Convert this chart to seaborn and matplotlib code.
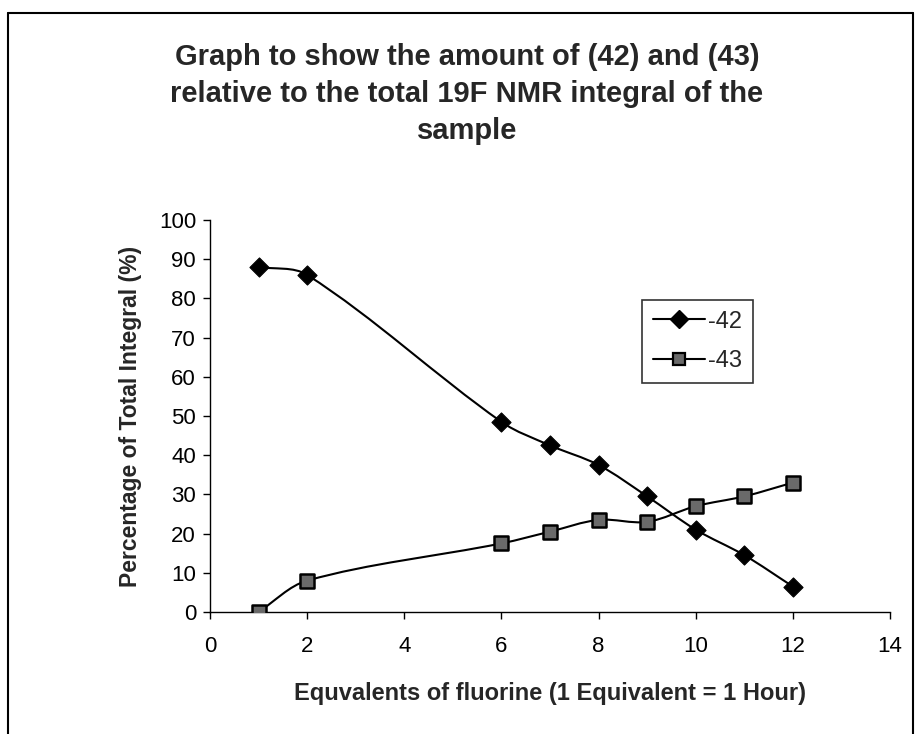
import numpy as np
import pandas as pd
import matplotlib
matplotlib.use("Agg")
import matplotlib.pyplot as plt
from matplotlib.path import Path
from matplotlib.patches import PathPatch
from matplotlib.lines import Line2D
import seaborn as sns

equivalents = [1, 2, 6, 7, 8, 9, 10, 11, 12]
series_42 = [88, 86, 48.5, 42.5, 37.5, 29.5, 21, 14.5, 6.5]
series_43 = [0, 8, 17.5, 20.5, 23.5, 23, 27, 29.5, 33]
series_names = ["-42", "-43"]
x_ticks = [0, 2, 4, 6, 8, 10, 12, 14]
y_ticks = [0, 10, 20, 30, 40, 50, 60, 70, 80, 90, 100]

sns.set_theme(style="white")
plt.rcParams["font.family"] = ["Liberation Sans", "DejaVu Sans"]

df = pd.DataFrame({
    "x": equivalents * 2,
    "y": series_42 + series_43,
    "series": [series_names[0]] * len(equivalents) + [series_names[1]] * len(equivalents),
})

W, H = 919, 734
fig = plt.figure(figsize=(W / 100, H / 100), dpi=100)
ax_l, ax_r, ax_b, ax_t = 210, 890, 612, 220
ax = fig.add_axes([ax_l / W, 1 - ax_b / H, (ax_r - ax_l) / W, (ax_b - ax_t) / H])
ax.set_xlim(0, 14)
ax.set_ylim(0, 100)


def smooth_path(xs, ys):
    """Excel-like smoothed line: cubic Bezier with length-weighted tangents."""
    pts = np.column_stack([xs, ys]).astype(float)
    disp = ax.transData.transform(pts)
    n = len(pts)
    f = 1.0 / 3.0
    verts = [pts[0]]
    codes = [Path.MOVETO]
    for i in range(n - 1):
        i0 = max(i - 1, 0)
        i3 = min(i + 2, n - 1)
        p0, p1, p2, p3 = pts[i0], pts[i], pts[i + 1], pts[i3]
        d01 = np.linalg.norm(disp[i] - disp[i0])
        d12 = np.linalg.norm(disp[i + 1] - disp[i])
        d23 = np.linalg.norm(disp[i3] - disp[i + 1])
        if i0 == i:
            c1 = p1 + (p2 - p1) * f
        else:
            c1 = p1 + (p2 - p0) * f * d12 / (d01 + d12)
        if i3 == i + 1:
            c2 = p2 - (p2 - p1) * f
        else:
            c2 = p2 - (p3 - p1) * f * d12 / (d12 + d23)
        verts += [c1, c2, p2]
        codes += [Path.CURVE4] * 3
    return Path(verts, codes)


for ys in (series_42, series_43):
    ax.add_patch(PathPatch(smooth_path(equivalents, ys), facecolor="none",
                           edgecolor="black", lw=1.5, zorder=2))

sub42 = df[df.series == series_names[0]]
sub43 = df[df.series == series_names[1]]
sns.scatterplot(data=sub42, x="x", y="y", marker="D", s=95, color="black",
                edgecolor="black", ax=ax, zorder=3, legend=False)
sns.scatterplot(data=sub43, x="x", y="y", marker="s", s=115, color="#6a6a6a",
                edgecolor="black", linewidth=1.8, ax=ax, zorder=3, legend=False)

ax.set_xlim(0, 14)
ax.set_ylim(0, 100)
ax.set_xticks(x_ticks)
ax.set_yticks(y_ticks)
ax.tick_params(axis="both", labelsize=16, colors="black", length=5, width=1,
               direction="out", bottom=True, left=True, pad=5)
ax.tick_params(axis="x", pad=12)
for s in ("top", "right"):
    ax.spines[s].set_visible(False)
for s in ("left", "bottom"):
    ax.spines[s].set_color("black")
    ax.spines[s].set_linewidth(1)

ax.set_xlabel("Equvalents of fluorine (1 Equivalent = 1 Hour)", fontsize=17,
              fontweight="bold", labelpad=18)
ax.set_ylabel("Percentage of Total Integral (%)", fontsize=16.5,
              fontweight="bold", labelpad=12)

handles = [
    Line2D([0], [0], color="black", lw=1.5, marker="D", markersize=9,
           markerfacecolor="black", markeredgecolor="black"),
    Line2D([0], [0], color="black", lw=1.5, marker="s", markersize=9,
           markerfacecolor="#6a6a6a", markeredgecolor="black", markeredgewidth=1.6),
]
leg = fig.legend(handles, series_names, loc="upper left",
                 bbox_to_anchor=(642 / W, 1 - 300 / H), frameon=True,
                 fancybox=False, edgecolor="black", fontsize=17,
                 handlelength=2.2, handletextpad=0.15, borderpad=0.45,
                 labelspacing=0.75, borderaxespad=0)
leg.get_frame().set_linewidth(1.2)

fig.text(467 / W, 1 - 43 / H,
         "Graph to show the amount of (42) and (43)\nrelative to the total 19F NMR integral of the\nsample",
         ha="center", va="top", fontsize=21, fontweight="bold", linespacing=1.42)

# outer chart border (left, top, right)
fig.add_artist(Line2D([8 / W, 8 / W], [0, 1 - 13 / H], color="black", lw=1.5))
fig.add_artist(Line2D([8 / W, 913 / W], [1 - 13 / H, 1 - 13 / H], color="black", lw=1.5))
fig.add_artist(Line2D([913 / W, 913 / W], [1 - 13 / H, 0], color="black", lw=1.5))

fig.savefig("out.png", dpi=100)
